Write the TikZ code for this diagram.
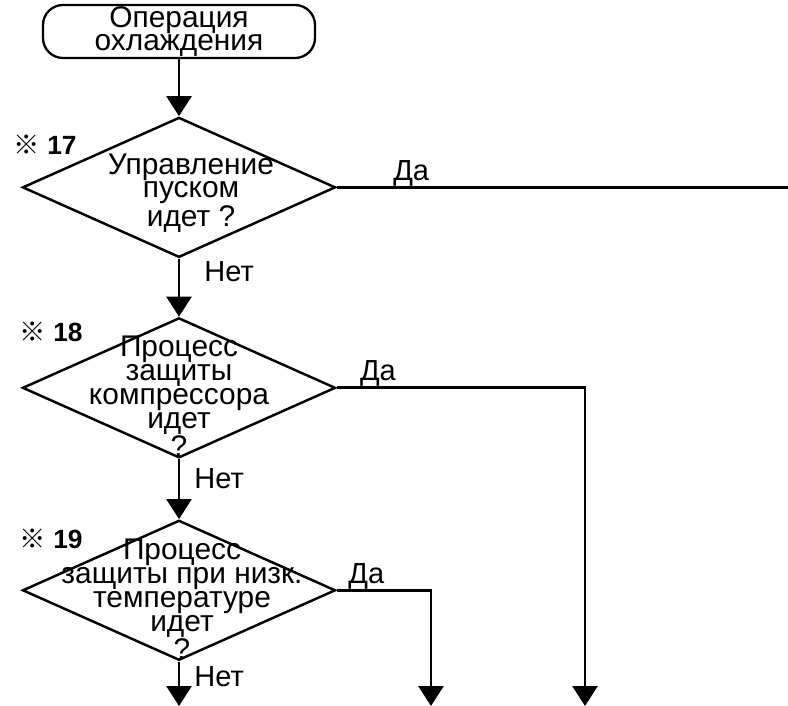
\documentclass[tikz,border=0pt]{standalone}
\usepackage{fontspec}
\setmainfont{Liberation Sans}
\newfontfamily\cjk{Noto Sans CJK JP}
\usepackage{tikz}
\usetikzlibrary{shapes.geometric,arrows.meta,positioning}
\tikzstyle{term}=[rectangle,draw,line width=1.3pt,rounded corners=0.4cm,align=center,minimum width=5.44cm,minimum height=1.06cm,inner sep=0pt,font=\fontsize{17}{13}\selectfont]
\tikzstyle{dec}=[diamond,draw,line width=1.4pt,minimum width=6.26cm,minimum height=2.8cm,inner sep=0pt]
\tikzstyle{txt}=[align=center,inner sep=0pt,font=\fontsize{17}{12.4}\selectfont]
\tikzstyle{refno}=[inner sep=0pt,font=\fontsize{15}{15}\selectfont\bfseries]
\tikzstyle{lbl}=[inner sep=0pt,font=\fontsize{16.5}{16.5}\selectfont]
\tikzstyle{ln}=[line width=1.6pt]
\tikzstyle{arr}=[-{Triangle[width=0.5cm,length=0.4cm]},line width=1.6pt]

\begin{document}
\begin{tikzpicture}
\useasboundingbox (0,0) rectangle (15.76,-14.12);
\node (start) [term] at (3.58,-0.63) {Операция\\охлаждения};
\node (d17) [dec, below=1.14cm of start] {};
\node (d18) [dec, below=1.16cm of d17] {};
\node (d19) [dec, below=1.2cm of d18] {};
\node (q17) [txt, font=\fontsize{17}{13.3}\selectfont] at ([xshift=0.24cm,yshift=-0.12cm]d17.center) {Управление\\пуском\\идет ?};
\node (q18) [txt] at ([yshift=-0.17cm]d18.center) {Процесс\\защиты\\компрессора\\идет\\?};
\node (q19) [txt] at ([xshift=0.06cm,yshift=-0.18cm]d19.center) {Процесс\\защиты при низк.\\температуре\\идет\\?};
\node (m17) [refno, above right=0.66cm and -0.16cm of d17.west] {{\cjk\mdseries ※}\ 17};
\node (m18) [refno, above right=0.92cm and -0.04cm of d18.west] {{\cjk\mdseries ※}\ 18};
\node (m19) [refno, above right=0.82cm and -0.04cm of d19.west] {{\cjk\mdseries ※}\ 19};
\coordinate (edgeR) at (15.76,-14.12);
\coordinate (r17) at (d17.east -| edgeR);
\coordinate (o18) at (11.70,-14.12);
\coordinate (o19) at (8.62,-14.12);
\coordinate (o20) at (d19.south |- edgeR);
\draw [arr] (start.south) -- (d17.north);
\draw [ln] (d17.east) -- node [lbl, pos=0.165, above=0pt] (y17) {Да} (r17);
\draw [arr] (d17.south) -- node [lbl, pos=0.22, right=0.48cm] (n17) {Нет} (d18.north);
\draw [arr] (d18.east) -| node [lbl, pos=0.083, above=0pt] (y18) {Да} (o18);
\draw [arr] (d18.south) -- node [lbl, pos=0.33, right=0.28cm] (n18) {Нет} (d19.north);
\draw [arr] (d19.east) -| node [lbl, pos=0.157, above=0pt] (y19) {Да} (o19);
\draw [arr] (d19.south) -- node [lbl, pos=0.35, right=0.28cm] (n19) {Нет} (o20);
\end{tikzpicture}
\end{document}
